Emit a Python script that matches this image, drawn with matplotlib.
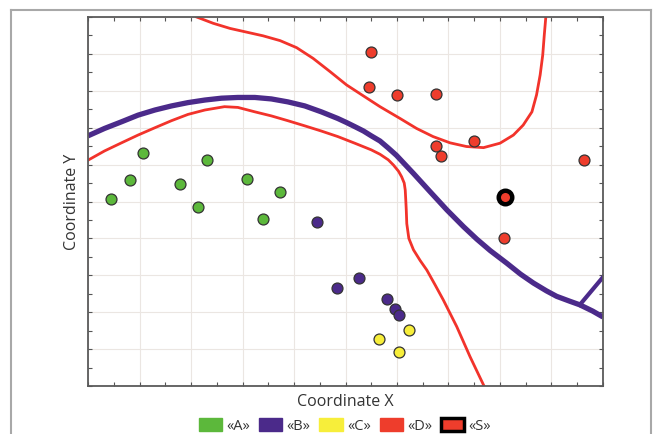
import matplotlib.pyplot as plt
from matplotlib.patches import Patch
from matplotlib.lines import Line2D
from matplotlib.ticker import MultipleLocator

plt.rcParams['font.family'] = ['Open Sans', 'DejaVu Sans']

# points per class (data units 0..10)
a_x = [0.44, 0.82, 1.06, 1.79, 2.14, 2.31, 3.09, 3.39, 3.73]
a_y = [5.07, 5.58, 6.31, 5.47, 4.86, 6.12, 5.61, 4.53, 5.27]
b_x = [4.45, 4.83, 5.26, 5.81, 5.96, 6.04]
b_y = [4.45, 2.66, 2.94, 2.35, 2.08, 1.92]
c_x = [5.66, 6.24, 6.04]
c_y = [1.27, 1.52, 0.92]
d_x = [5.50, 5.46, 6.00, 6.75, 6.75, 6.85, 7.49, 9.63, 8.08]
d_y = [9.04, 8.09, 7.89, 7.91, 6.50, 6.22, 6.63, 6.12, 4.02]
s_x = [8.09]
s_y = [5.11]

# boundaries
bnd_b_x = [0, 0.32, 0.65, 0.97, 1.30, 1.62, 1.94, 2.27, 2.59, 2.91, 3.24, 3.56,
           3.88, 4.21, 4.53, 4.85, 5.02, 5.18, 5.35, 5.50, 5.67, 5.83, 5.99, 6.32,
           6.64, 6.97, 7.29, 7.55, 7.81, 8.13, 8.40, 8.65, 8.90, 9.10, 9.35, 9.55,
           9.80, 10.0]
bnd_b_y = [6.78, 6.98, 7.16, 7.34, 7.48, 7.59, 7.68, 7.75, 7.80, 7.82, 7.82, 7.78,
           7.70, 7.59, 7.43, 7.25, 7.14, 7.03, 6.91, 6.78, 6.64, 6.45, 6.25, 5.76,
           5.27, 4.77, 4.32, 3.98, 3.67, 3.33, 3.03, 2.79, 2.58, 2.43, 2.30, 2.20,
           2.03, 1.87]
branch_x = [9.55, 10.0]
branch_y = [2.20, 2.95]
bnd_d1_x = [0, 0.32, 0.65, 0.97, 1.30, 1.62, 1.94, 2.27, 2.65, 2.91, 3.24, 3.56,
            3.88, 4.21, 4.53, 4.85, 5.18, 5.50, 5.67, 5.83, 5.93, 6.03, 6.09, 6.14,
            6.16, 6.17, 6.18, 6.19, 6.23, 6.32, 6.45, 6.58, 6.74, 6.90, 7.16, 7.42,
            7.69]
bnd_d1_y = [6.12, 6.37, 6.59, 6.80, 7.00, 7.19, 7.36, 7.48, 7.57, 7.55, 7.43, 7.32,
            7.19, 7.05, 6.91, 6.76, 6.58, 6.40, 6.28, 6.13, 5.99, 5.82, 5.67, 5.50,
            5.31, 5.05, 4.77, 4.40, 4.00, 3.69, 3.40, 3.14, 2.74, 2.33, 1.61, 0.79,
            0.0]
bnd_d2_x = [2.11, 2.43, 2.76, 3.08, 3.40, 3.73, 4.05, 4.37, 4.70, 5.02, 5.35, 5.67,
            6.06, 6.38, 6.70, 7.03, 7.35, 7.68, 8.00, 8.26, 8.45, 8.62, 8.71, 8.78,
            8.83, 8.86, 8.89]
bnd_d2_y = [10.0, 9.83, 9.69, 9.59, 9.49, 9.36, 9.17, 8.88, 8.52, 8.16, 7.86, 7.57,
            7.25, 6.98, 6.76, 6.59, 6.49, 6.46, 6.58, 6.80, 7.07, 7.43, 7.89, 8.43,
            8.97, 9.51, 10.0]

green = '#5cb83b'
purple = '#4b2a8a'
yellow = '#f7ee3a'
red = '#ee3d2c'

fig = plt.figure(figsize=(6.53, 4.34), dpi=100)
ax = fig.add_axes([0.1348, 0.1106, 0.7886, 0.8502])

ax.plot(bnd_d1_x, bnd_d1_y, color='#f2332b', lw=2.0, zorder=2)
ax.plot(bnd_d2_x, bnd_d2_y, color='#f2332b', lw=2.0, zorder=2)
ax.plot(bnd_b_x, bnd_b_y, color=purple, lw=3.8, zorder=2, solid_capstyle='butt')
ax.plot(branch_x, branch_y, color=purple, lw=3.0, zorder=2)

ms = 62
ax.scatter(a_x, a_y, s=ms, c=green, edgecolors='#333333', linewidths=0.9, zorder=3)
ax.scatter(b_x, b_y, s=ms, c=purple, edgecolors='#333333', linewidths=0.9, zorder=3)
ax.scatter(c_x, c_y, s=ms, c=yellow, edgecolors='#333333', linewidths=0.9, zorder=3)
ax.scatter(d_x, d_y, s=ms, c=red, edgecolors='#333333', linewidths=0.9, zorder=3)
ax.scatter(s_x, s_y, s=95, c=red, edgecolors='black', linewidths=3.2, zorder=4)

ax.set_xlim(0, 10)
ax.set_ylim(0, 10)
ax.xaxis.set_major_locator(MultipleLocator(1))
ax.yaxis.set_major_locator(MultipleLocator(1))
ax.xaxis.set_minor_locator(MultipleLocator(0.5))
ax.yaxis.set_minor_locator(MultipleLocator(0.5))
ax.tick_params(which='both', direction='in', length=3, width=0.8, color='#555555',
               top=True, right=True, labelbottom=False, labelleft=False)
ax.grid(True, which='major', color='#ebe6e2', lw=0.8, zorder=0)
ax.set_axisbelow(True)
for sp in ax.spines.values():
    sp.set_color('#5a5a5a')
    sp.set_linewidth(1.3)

ax.set_xlabel('Coordinate X', fontsize=11.5, color='#333333', labelpad=6)
ax.set_ylabel('Coordinate Y', fontsize=11.5, color='#333333', labelpad=6)

handles = [
    Patch(facecolor=green, edgecolor=green, label='«A»'),
    Patch(facecolor=purple, edgecolor=purple, label='«B»'),
    Patch(facecolor=yellow, edgecolor=yellow, label='«C»'),
    Patch(facecolor=red, edgecolor=red, label='«D»'),
    Patch(facecolor=red, edgecolor='black', linewidth=2.5, label='«S»'),
]
fig.legend(handles=handles, loc='center', bbox_to_anchor=(345 / 653, 1 - 426 / 434),
           ncol=5, frameon=False, fontsize=10.5, handlelength=1.6, handleheight=0.9,
           handletextpad=0.3, columnspacing=0.6, labelcolor='#333333')

# outer frame
fc = '#a8a8a8'
fig.add_artist(Line2D([11 / 653, 11 / 653], [0, 1 - 10 / 434], color=fc, lw=1.5))
fig.add_artist(Line2D([11 / 653, 651 / 653], [1 - 10 / 434, 1 - 10 / 434], color=fc, lw=1.5))
fig.add_artist(Line2D([651 / 653, 651 / 653], [0, 1 - 10 / 434], color=fc, lw=1.5))

fig.savefig('out.png', dpi=100)
